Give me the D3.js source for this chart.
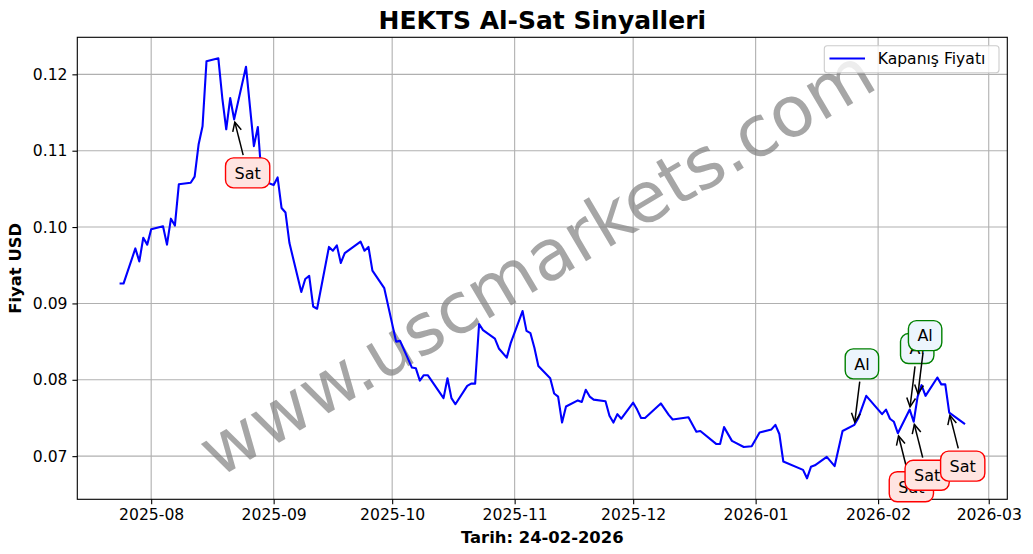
<!DOCTYPE html>
<html>
<head>
<meta charset="utf-8">
<script src="https://cdn.jsdelivr.net/npm/d3@7"></script>
<style>
  html, body { margin: 0; padding: 0; background: #fff; }
  svg { display: block; font-family: "DejaVu Sans", sans-serif; }
</style>
</head>
<body>
<svg id="chart" width="1033" height="554"></svg>
<script>
// ---------------- DATA ----------------
const dates = [
  "2025-07-24","2025-07-25","2025-07-28","2025-07-29","2025-07-30","2025-07-31",
  "2025-08-01","2025-08-04","2025-08-05","2025-08-06","2025-08-07","2025-08-08",
  "2025-08-11","2025-08-12","2025-08-13","2025-08-14","2025-08-15","2025-08-18",
  "2025-08-19","2025-08-20","2025-08-21","2025-08-22","2025-08-25","2025-08-27",
  "2025-08-28","2025-08-29","2025-09-01","2025-09-02","2025-09-03","2025-09-04",
  "2025-09-05","2025-09-08","2025-09-09","2025-09-10","2025-09-11","2025-09-12",
  "2025-09-15","2025-09-16","2025-09-17","2025-09-18","2025-09-19","2025-09-23",
  "2025-09-24","2025-09-25","2025-09-26","2025-09-29","2025-10-02","2025-10-03",
  "2025-10-06","2025-10-07","2025-10-08","2025-10-09","2025-10-10","2025-10-14",
  "2025-10-15","2025-10-16","2025-10-17","2025-10-20","2025-10-21","2025-10-22",
  "2025-10-23","2025-10-24","2025-10-27","2025-10-28","2025-10-30","2025-10-31",
  "2025-11-03","2025-11-04","2025-11-05","2025-11-06","2025-11-07","2025-11-10",
  "2025-11-11","2025-11-12","2025-11-13","2025-11-14","2025-11-17","2025-11-18",
  "2025-11-19","2025-11-20","2025-11-21","2025-11-24","2025-11-25","2025-11-26",
  "2025-11-27","2025-11-28","2025-12-01","2025-12-02","2025-12-03","2025-12-04",
  "2025-12-08","2025-12-10","2025-12-11","2025-12-15","2025-12-17","2025-12-18",
  "2025-12-22","2025-12-23","2025-12-24","2025-12-26","2025-12-29","2025-12-31",
  "2026-01-02","2026-01-05","2026-01-06","2026-01-07","2026-01-08","2026-01-13",
  "2026-01-14","2026-01-15","2026-01-16","2026-01-19","2026-01-21","2026-01-23",
  "2026-01-26","2026-01-27","2026-01-29","2026-02-02","2026-02-03","2026-02-04",
  "2026-02-05","2026-02-06","2026-02-09","2026-02-10","2026-02-11","2026-02-12",
  "2026-02-13","2026-02-16","2026-02-17","2026-02-18","2026-02-19","2026-02-23"
];
const prices = [
  0.0926,0.0926,0.0972,0.0955,0.0986,0.0977,
  0.0997,0.1001,0.0977,0.1011,0.1002,0.1056,
  0.1058,0.1066,0.1108,0.1132,0.1217,0.1221,
  0.1169,0.1128,0.1169,0.1141,0.1210,0.1106,
  0.1131,0.1061,0.1055,0.1065,0.1025,0.1019,
  0.0979,0.0915,0.0932,0.0936,0.0896,0.0893,
  0.0974,0.0969,0.0976,0.0953,0.0966,0.0981,
  0.0969,0.0974,0.0943,0.0920,0.0850,0.0851,
  0.0816,0.0815,0.0799,0.0806,0.0806,0.0776,
  0.0802,0.0776,0.0768,0.0792,0.0795,0.0795,
  0.0873,0.0865,0.0854,0.0841,0.0829,0.0848,
  0.0890,0.0864,0.0861,0.0842,0.0818,0.0802,
  0.0782,0.0778,0.0744,0.0765,0.0773,0.0771,
  0.0787,0.0778,0.0774,0.0772,0.0753,0.0744,
  0.0755,0.0749,0.0770,0.0761,0.0750,0.0750,
  0.0769,0.0754,0.0748,0.0751,0.0732,0.0733,
  0.0716,0.0716,0.0738,0.0720,0.0712,0.0713,
  0.0731,0.0735,0.0741,0.0729,0.0693,0.0682,
  0.0671,0.0686,0.0688,0.0699,0.0687,0.0733,
  0.0741,0.0750,0.0779,0.0755,0.0761,0.0749,
  0.0745,0.0730,0.0761,0.0745,0.0778,0.0793,
  0.0779,0.0803,0.0794,0.0794,0.0757,0.0742
];
const alDates  = ["2026-01-26","2026-02-09","2026-02-11"];
const satDates = ["2025-08-22","2026-02-06","2026-02-10","2026-02-19"];
const yTickValues = [0.07, 0.08, 0.09, 0.10, 0.11, 0.12];
const titleText = "HEKTS Al-Sat Sinyalleri";
const xLabelText = "Tarih: 24-02-2026";
const yLabelText = "Fiyat USD";
const legendLabel = "Kapanış Fiyatı";
const watermarkText = "www.uscmarkets.com";

// ---------------- SETUP ----------------
const parse = d3.utcParse("%Y-%m-%d");
const series = dates.map((d, i) => ({ date: parse(d), value: prices[i] }));
const lookup = new Map(dates.map((d, i) => [d, prices[i]]));

const svg = d3.select("#chart");
const L = 77.3, R = 1007.3, T = 37.3, B = 499.3;

const dExt = d3.extent(series, d => d.date);
const span = dExt[1] - dExt[0];
const x = d3.scaleUtc()
  .domain([new Date(+dExt[0] - span * 0.05), new Date(+dExt[1] + span * 0.05)])
  .range([L, R]);
const vExt = d3.extent(series, d => d.value);
const vSpan = vExt[1] - vExt[0];
const y = d3.scaleLinear()
  .domain([vExt[0] - vSpan * 0.05, vExt[1] + vSpan * 0.05])
  .range([B, T]);

const xTicks = x.ticks(d3.utcMonth.every(1));

// grid
const grid = svg.append("g");
grid.selectAll("line.vx").data(xTicks).join("line")
  .attr("x1", d => x(d)).attr("x2", d => x(d))
  .attr("y1", T).attr("y2", B)
  .attr("stroke", "#b0b0b0").attr("stroke-width", 1.1);
grid.selectAll("line.hy").data(yTickValues).join("line")
  .attr("x1", L).attr("x2", R)
  .attr("y1", d => y(d)).attr("y2", d => y(d))
  .attr("stroke", "#b0b0b0").attr("stroke-width", 1.1);

// watermark
svg.append("text")
  .attr("transform", "translate(549,283) rotate(-30.6)")
  .attr("text-anchor", "middle")
  .attr("font-size", 70.5)
  .attr("fill", "#808080")
  .attr("fill-opacity", 0.7)
  .text(watermarkText);

// price line
svg.append("clipPath").attr("id", "plotclip")
  .append("rect").attr("x", L).attr("y", T).attr("width", R - L).attr("height", B - T);
svg.append("path")
  .datum(series)
  .attr("clip-path", "url(#plotclip)")
  .attr("fill", "none")
  .attr("stroke", "#0000ff")
  .attr("stroke-width", 2.1)
  .attr("stroke-linejoin", "round")
  .attr("d", d3.line().x(d => x(d.date)).y(d => y(d.value)));

// axes
const xAxis = d3.axisBottom(x)
  .tickValues(xTicks)
  .tickFormat(d3.utcFormat("%Y-%m"))
  .tickSizeOuter(0).tickSize(4.9).tickPadding(4.9);
const gx = svg.append("g").attr("transform", `translate(0,${B})`).call(xAxis);
const yAxis = d3.axisLeft(y)
  .tickValues(yTickValues)
  .tickFormat(d3.format(".2f"))
  .tickSizeOuter(0).tickSize(4.9).tickPadding(4.9);
const gy = svg.append("g").attr("transform", `translate(${L},0)`).call(yAxis);
[gx, gy].forEach(g => {
  g.select(".domain").remove();
  g.selectAll(".tick line").attr("stroke", "#000").attr("stroke-width", 1.1);
  g.selectAll(".tick text").attr("font-size", 15.6).attr("fill", "#000")
    .attr("font-family", "DejaVu Sans");
});

// spines
svg.append("rect").attr("x", L).attr("y", T).attr("width", R - L).attr("height", B - T)
  .attr("fill", "none").attr("stroke", "#000").attr("stroke-width", 1.1);

// labels
svg.append("text").attr("x", (L + R) / 2).attr("y", 29)
  .attr("text-anchor", "middle").attr("font-size", 25).attr("font-weight", "bold")
  .text(titleText);
svg.append("text").attr("x", (L + R) / 2).attr("y", 543)
  .attr("text-anchor", "middle").attr("font-size", 16.4).attr("font-weight", "bold")
  .text(xLabelText);
svg.append("text")
  .attr("transform", `translate(21,${(T + B) / 2}) rotate(-90)`)
  .attr("text-anchor", "middle").attr("font-size", 16.4).attr("font-weight", "bold")
  .text(yLabelText);

// legend
const lg = svg.append("g");
lg.append("rect").attr("x", 824.3).attr("y", 45.7).attr("width", 174.7).attr("height", 27)
  .attr("rx", 3).attr("fill", "#fff").attr("fill-opacity", 0.8)
  .attr("stroke", "#cccccc").attr("stroke-width", 1.1);
lg.append("line").attr("x1", 829.5).attr("x2", 865).attr("y1", 58.5).attr("y2", 58.5)
  .attr("stroke", "#0000ff").attr("stroke-width", 2.1);
lg.append("text").attr("x", 877.7).attr("y", 64.3).attr("font-size", 15.6)
  .text(legendLabel);

// annotations
const signals = [
  ...satDates.map(d => ({ d, kind: "Sat" })),
  ...alDates.map(d => ({ d, kind: "Al" }))
].sort((a, b) => d3.ascending(a.d, b.d));

const style = {
  Sat: { dx: 13.5, dy: 53.5, stroke: "#ff0000", fill: "#ffe4e1" },
  Al:  { dx: 7.5,  dy: -61,  stroke: "#008000", fill: "#ecf5fd" }
};

const ag = svg.append("g");
signals.forEach(s => {
  const st = style[s.kind];
  const px = x(parse(s.d)), py = y(lookup.get(s.d));
  const cx = px + st.dx, cy = py + st.dy;
  const g = ag.append("g");
  const arrow = g.append("g");
  const box = g.append("rect");
  const txt = g.append("text").attr("x", cx).attr("y", cy).attr("dy", "0.36em")
    .attr("text-anchor", "middle").attr("font-size", 16).text(s.kind);
  const tw = txt.node().getComputedTextLength();
  const w = tw + 18, h = 30;
  box.attr("x", cx - w / 2).attr("y", cy - h / 2).attr("width", w).attr("height", h)
    .attr("rx", 8).attr("fill", st.fill).attr("stroke", st.stroke).attr("stroke-width", 1.4);
  const ddx = px - cx, ddy = py - cy;
  const len = Math.hypot(ddx, ddy);
  const ux = ddx / len, uy = ddy / len;
  const t = Math.min((w / 2) / Math.abs(ddx || 1e-9), (h / 2) / Math.abs(ddy || 1e-9));
  const sx = cx + ddx * t + ux * 2.8, sy = cy + ddy * t + uy * 2.8;
  const ex = px - ux * 2.8, ey = py - uy * 2.8;
  const hl = 8.9, hw = 4.4;
  const bx = ex - ux * hl, by = ey - uy * hl;
  arrow.append("line").attr("x1", sx).attr("y1", sy).attr("x2", ex).attr("y2", ey)
    .attr("stroke", "#000").attr("stroke-width", 1.5);
  arrow.append("path")
    .attr("d", `M${bx - uy * hw},${by + ux * hw}L${ex},${ey}L${bx + uy * hw},${by - ux * hw}`)
    .attr("fill", "none").attr("stroke", "#000").attr("stroke-width", 1.5);
});
</script>
</body>
</html>
